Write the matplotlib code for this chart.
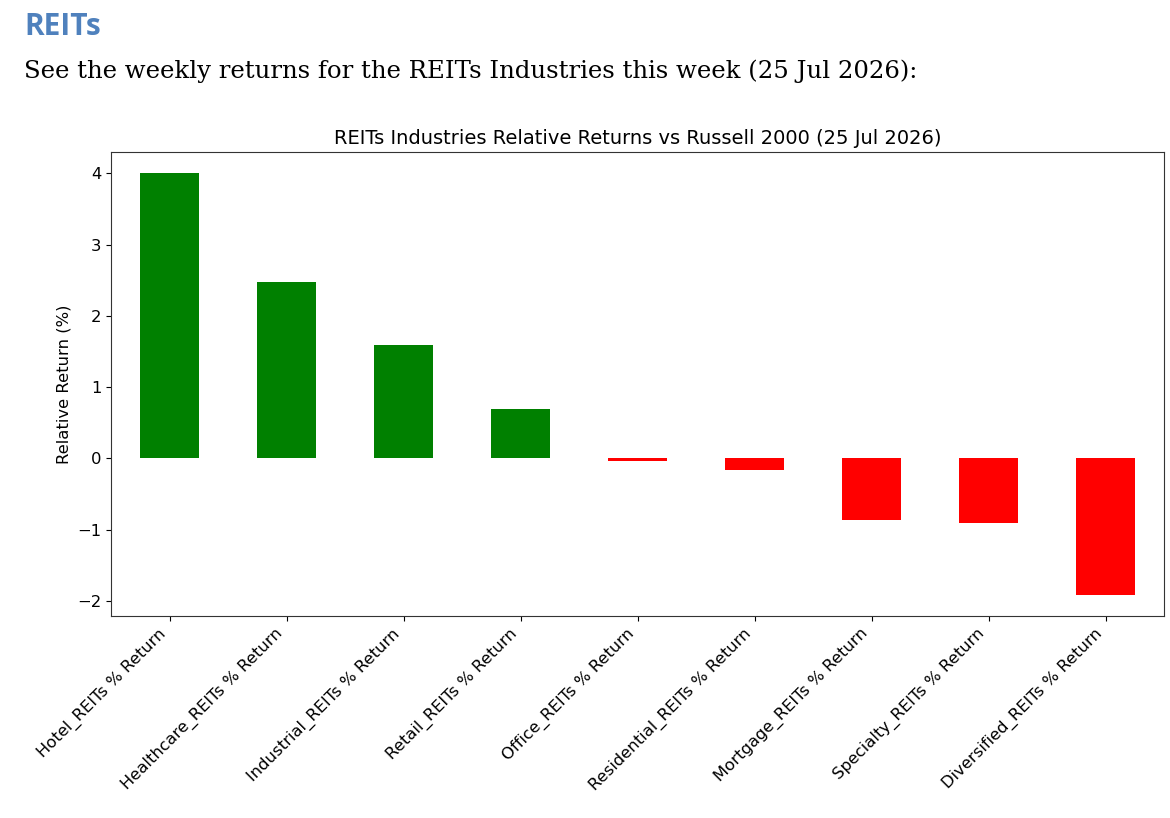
import matplotlib
matplotlib.use("Agg")
import matplotlib.pyplot as plt

categories = ["Hotel_REITs % Return", "Healthcare_REITs % Return", "Industrial_REITs % Return",
              "Retail_REITs % Return", "Office_REITs % Return", "Residential_REITs % Return",
              "Mortgage_REITs % Return", "Specialty_REITs % Return", "Diversified_REITs % Return"]
values = [4.01, 2.48, 1.59, 0.70, -0.03, -0.16, -0.87, -0.90, -1.91]

heading = "REITs"
subtitle = "See the weekly returns for the REITs Industries this week (25 Jul 2026):"
chart_title = "REITs Industries Relative Returns vs Russell 2000 (25 Jul 2026)"
y_label = "Relative Return (%)"

W, H = 1170, 818
fig = plt.figure(figsize=(W / 100, H / 100), dpi=100)
fig.patch.set_facecolor("white")

fig.text(24 / W, 1 - 35 / H, heading, fontsize=21.5, fontweight="bold", color="#4F81BD",
         family=["Open Sans", "DejaVu Sans"], va="baseline", ha="left")
fig.text(24 / W, 1 - 78 / H, subtitle, fontsize=17.6, color="black",
         family=["DejaVu Serif"], va="baseline", ha="left")

ax = fig.add_axes([111 / W, 1 - 616 / H, (1164 - 111) / W, (616 - 152) / H])
colors = ["green" if v >= 0 else "red" for v in values]
x = range(len(categories))
ax.bar(x, values, width=0.5, color=colors)
ax.set_xlim(-0.5, len(categories) - 0.5)
ax.set_ylim(-2.21, 4.3)
ax.set_xticks(list(x))
ax.set_xticklabels(categories, rotation=45, ha="right", fontsize=11.8)
ax.tick_params(axis="y", labelsize=11.8)
ax.set_ylabel(y_label, fontsize=11.8)
ax.set_title(chart_title, fontsize=14, pad=6)
for s in ax.spines.values():
    s.set_color("#333333")

fig.savefig("out.png", dpi=100)
